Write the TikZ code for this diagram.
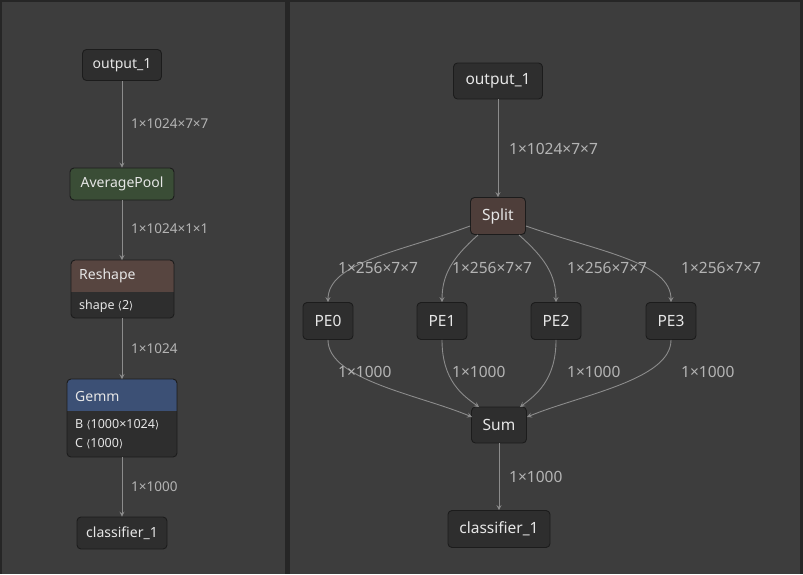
\documentclass[tikz,border=0pt]{standalone}
\usepackage{fontspec}
\setmainfont{Noto Sans}
\newfontfamily\brk{DejaVu Sans}
\usetikzlibrary{arrows.meta}
\definecolor{frame}{HTML}{262626}
\definecolor{panel}{HTML}{3D3D3D}
\definecolor{nodefill}{HTML}{2E2E2E}
\definecolor{nodeedge}{HTML}{1C1C1C}
\definecolor{txt}{HTML}{E6E6E6}
\definecolor{lbl}{HTML}{B4B4B4}
\definecolor{wire}{HTML}{8C8C8C}
\definecolor{pool}{HTML}{3A4D36}
\definecolor{shp}{HTML}{574540}
\definecolor{gemm}{HTML}{3C5075}
\definecolor{splitc}{HTML}{4E3E3A}
\newcommand{\lang}{{\brk\fontsize{10.5}{12}\selectfont ⟨}}
\newcommand{\rang}{{\brk\fontsize{10.5}{12}\selectfont ⟩}}
\tikzset{
  box/.style={draw=nodeedge, line width=0.9pt, fill=nodefill, rounded corners=4pt, text=txt, inner sep=0pt, align=center},
  lbox/.style={box, font=\fontsize{14}{16}\selectfont},
  rbox/.style={box, font=\fontsize{15.5}{18}\selectfont},
  wirestyle/.style={draw=wire, line width=0.9pt, -{Stealth[length=5pt,width=5pt,inset=2pt]}},
  elab/.style={text=lbl, anchor=west, inner sep=0pt},
  llab/.style={elab, font=\fontsize{13.5}{15}\selectfont},
  rlab/.style={elab, font=\fontsize{15.5}{18}\selectfont},
  hdr/.style={text=txt, anchor=west, inner sep=0pt, font=\fontsize{14}{16}\selectfont},
  attr/.style={text=txt, anchor=west, inner sep=0pt, font=\fontsize{12.5}{14}\selectfont},
}
\begin{document}
\begin{tikzpicture}[x=1pt,y=-1pt]
\useasboundingbox (0,0) rectangle (803,574);
\fill[frame] (0,0) rectangle (803,574);
\fill[panel] (2,2) rectangle (285,574);
\fill[panel] (290,2) rectangle (800,574);

% ---------- left panel ----------
\node[lbox, minimum width=79pt, minimum height=31pt] (lo) at (122,65) {output\_1};
\node[lbox, fill=pool, minimum width=104pt, minimum height=32pt] (lap) at (122,184) {AveragePool};
% Reshape
\coordinate (rsN) at (122,260);
\coordinate (rsS) at (122,318);
\fill[nodefill, rounded corners=4pt] (71,260) rectangle (174,318);
\begin{scope}
\clip[rounded corners=4pt] (71,260) rectangle (174,318);
\fill[shp] (71,260) rectangle (174,292);
\end{scope}
\draw[nodeedge, line width=0.9pt, rounded corners=4pt] (71,260) rectangle (174,318);
\node[hdr] (rst) at (79,276) {Reshape};
\node[attr] (rsa) at (79,306) {\textbf{shape} \lang2\rang};
% Gemm
\coordinate (gmN) at (122,379);
\coordinate (gmS) at (122,457);
\fill[nodefill, rounded corners=4pt] (67,379) rectangle (177,457);
\begin{scope}
\clip[rounded corners=4pt] (67,379) rectangle (177,457);
\fill[gemm] (67,379) rectangle (177,411);
\end{scope}
\draw[nodeedge, line width=0.9pt, rounded corners=4pt] (67,379) rectangle (177,457);
\node[hdr] (gmt) at (75,396) {Gemm};
\node[attr] (gmb) at (75,425) {\textbf{B} \lang1000×1024\rang};
\node[attr] (gmc) at (75,444) {\textbf{C} \lang1000\rang};
\node[lbox, minimum width=90pt, minimum height=32pt] (lcl) at (122,533) {classifier\_1};

\draw[wirestyle] (lo.south) -- (lap.north);
\draw[wirestyle] (lap.south) -- (rsN);
\draw[wirestyle] (rsS) -- (gmN);
\draw[wirestyle] (gmS) -- (lcl.north);
\node[llab] (l1) at (131,124) {1×1024×7×7};
\node[llab] (l2) at (131,229) {1×1024×1×1};
\node[llab] (l3) at (131,349) {1×1024};
\node[llab] (l4) at (131,487) {1×1000};

% ---------- right panel ----------
\node[rbox, minimum width=89pt, minimum height=36pt] (ro) at (498,81) {output\_1};
\node[rbox, fill=splitc, minimum width=55pt, minimum height=37pt] (sp) at (498,216) {Split};
\node[rbox, minimum width=50pt, minimum height=37pt] (p0) at (328,321) {PE0};
\node[rbox, minimum width=50pt, minimum height=37pt] (p1) at (442,321) {PE1};
\node[rbox, minimum width=50pt, minimum height=37pt] (p2) at (556,321) {PE2};
\node[rbox, minimum width=50pt, minimum height=37pt] (p3) at (671,321) {PE3};
\node[rbox, minimum width=55pt, minimum height=36pt] (sm) at (499,425) {Sum};
\node[rbox, minimum width=102pt, minimum height=37pt] (rc) at (499,529) {classifier\_1};

\draw[wirestyle] (ro.south) -- (sp.north);
\draw[wirestyle] (sp.west |- 0,226) .. controls (400,252) and (328,262) .. (p0.north);
\draw[wirestyle] (478,235) .. controls (452,258) and (442,275) .. (p1.north);
\draw[wirestyle] (519,235) .. controls (545,258) and (556,275) .. (p2.north);
\draw[wirestyle] (sp.east |- 0,226) .. controls (600,252) and (671,262) .. (p3.north);

\draw[wirestyle] (p0.south) .. controls (328,380) and (420,395) .. (472,417);
\draw[wirestyle] (p1.south) .. controls (442,380) and (462,395) .. (479,407);
\draw[wirestyle] (p2.south) .. controls (556,380) and (536,395) .. (520,407);
\draw[wirestyle] (p3.south) .. controls (671,380) and (580,395) .. (527,417);
\draw[wirestyle] (sm.south) -- (rc.north);

\node[rlab] (r1) at (509,149) {1×1024×7×7};
\node[rlab] (r2) at (338,268) {1×256×7×7};
\node[rlab] (r3) at (452,268) {1×256×7×7};
\node[rlab] (r4) at (567,268) {1×256×7×7};
\node[rlab] (r5) at (681,268) {1×256×7×7};
\node[rlab] (r6) at (338,372) {1×1000};
\node[rlab] (r7) at (452,372) {1×1000};
\node[rlab] (r8) at (567,372) {1×1000};
\node[rlab] (r9) at (681,372) {1×1000};
\node[rlab] (r10) at (509,477) {1×1000};
\end{tikzpicture}
\end{document}
